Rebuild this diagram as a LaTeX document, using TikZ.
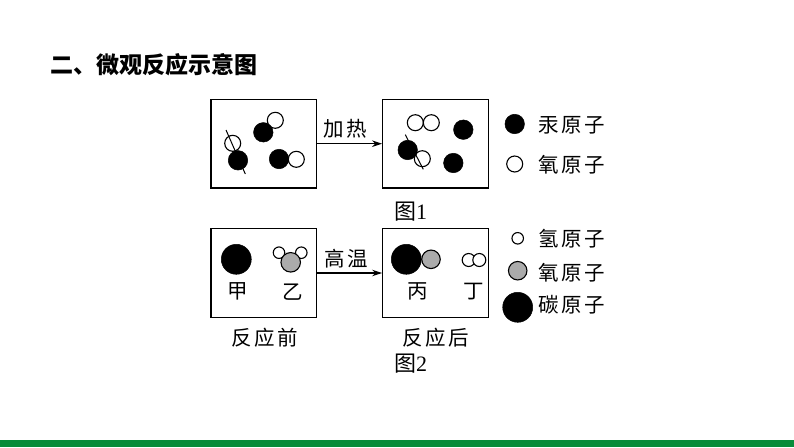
\documentclass[tikz,border=0pt]{standalone}
\usepackage{fontspec}
\setmainfont{Liberation Serif}
\newfontfamily\cjk{Noto Sans CJK SC}
\newcommand{\gp}{\kern2.5pt}
\usetikzlibrary{arrows.meta}
\definecolor{barg}{HTML}{078C3A}
\definecolor{atomg}{HTML}{ABABAB}
\tikzset{
  frame/.style={draw,line width=1.3pt,minimum width=105.6pt,minimum height=88.6pt,inner sep=0pt},
  blk/.style={circle,fill=black,draw=black,line width=0.5pt,inner sep=0pt,minimum size=#1},
  wht/.style={circle,fill=white,draw=black,line width=1.1pt,inner sep=0pt,minimum size=#1},
  gry/.style={circle,fill=atomg,draw=black,line width=1.1pt,inner sep=0pt,minimum size=#1},
  lbl/.style={inner sep=0pt,font=\cjk\fontsize{20.5}{20.5}\selectfont},
  fig/.style={inner sep=0pt,font=\fontsize{22}{22}\selectfont},
  arr/.style={line width=1.1pt,-{Stealth[length=10pt,width=6.5pt]}},
  bond/.style={line width=1pt}
}
\begin{document}
\begin{tikzpicture}[x=1pt,y=-1pt]
\useasboundingbox (0,0) rectangle (794,447);
\fill[white] (0,0) rectangle (794,447);
\fill[barg] (0,439.5) rectangle (794,447);
\node[inner sep=0pt,anchor=west,font=\cjk\bfseries\fontsize{23}{23}\selectfont] (title) at (50,65) {二、微观反应示意图};
% Figure 1
\node[frame] (b1) at (263.9,143.7) {};
\node[frame] (b2) at (435.5,143.7) {};
\draw[arr] (b1.east) -- (b2.west);
\node[lbl] (t1) at (345.7,128.3) {加\gp 热};
\node[wht=16pt] (a1) at (275.3,120.3) {};
\node[blk=19.5pt] (a2) at (263.3,132.3) {};
\node[wht=16pt] (a3) at (232.7,143.3) {};
\node[blk=19.5pt] (a4) at (238,160.3) {};
\coordinate (l1) at (226,130); \coordinate (l2) at (245.3,174);
\draw[bond] (l1) -- (l2);
\node[wht=16pt] (a6) at (296.3,159.3) {};
\node[blk=19.5pt] (a5) at (279,159) {};
\node[wht=16pt] (c1) at (415.3,122.7) {};
\node[wht=16pt] (c2) at (431.3,122.7) {};
\node[blk=19.5pt] (c3) at (463.3,129.7) {};
\node[wht=16pt] (c5) at (422.3,158.7) {};
\node[blk=19.5pt] (c4) at (407.7,150) {};
\coordinate (l3) at (405.3,134.7); \coordinate (l4) at (423.3,169.3);
\draw[bond] (l3) -- (l4);
\node[blk=19.5pt] (c6) at (453.3,163) {};
\node[blk=19.5pt] (k1) at (514.7,124) {};
\node[wht=16pt] (k2) at (514.7,164) {};
\node[lbl] (k1t) at (571.7,125.5) {汞\gp 原\gp 子};
\node[lbl] (k2t) at (571.7,165) {氧\gp 原\gp 子};
\node[fig] (f1) at (410.7,211.7) {{\cjk 图}1};
% Figure 2
\node[frame] (b3) at (263.9,273) {};
\node[frame] (b4) at (435.5,273) {};
\draw[arr] (b3.east) -- (b4.west);
\node[lbl] (t2) at (346.7,259) {高\gp 温};
\node[blk=30pt] (d1) at (236.3,259.3) {};
\node[wht=11.5pt] (d2) at (279,252.7) {};
\node[wht=11.5pt] (d3) at (301.3,252.7) {};
\node[gry=19.5pt] (d4) at (290.7,262.3) {};
\node[lbl] (jia) at (237.3,291.7) {甲};
\node[lbl] (yi) at (292.3,291.7) {乙};
\node[gry=18.5pt] (e2) at (431,259.3) {};
\node[blk=30pt] (e1) at (406.3,259.3) {};
\node[wht=13pt] (e3) at (468.7,260) {};
\node[wht=13pt] (e4) at (479.3,260) {};
\node[lbl] (bing) at (417.3,291.7) {丙};
\node[lbl] (ding) at (474,291.7) {丁};
\node[wht=11.5pt] (g1) at (517.7,238.3) {};
\node[gry=18.5pt] (g2) at (517.7,270.7) {};
\node[blk=30pt] (g3) at (517.7,307.3) {};
\node[lbl] (g1t) at (571.7,238.3) {氢\gp 原\gp 子};
\node[lbl] (g2t) at (571.7,273) {氧\gp 原\gp 子};
\node[lbl] (g3t) at (571.7,305) {碳\gp 原\gp 子};
\node[lbl] (q) at (265,337.3) {反\gp 应\gp 前};
\node[lbl] (h) at (436,337.3) {反\gp 应\gp 后};
\node[fig] (f2) at (410.7,364) {{\cjk 图}2};
\end{tikzpicture}
\end{document}
